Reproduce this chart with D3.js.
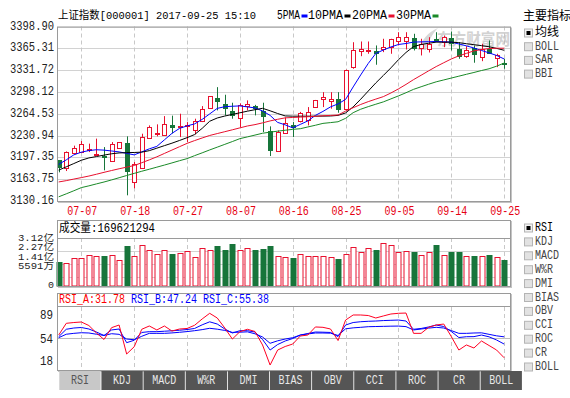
<!DOCTYPE html>
<html><head><meta charset="utf-8">
<script src="https://cdn.jsdelivr.net/npm/d3@7"></script>
<style>body{margin:0;background:#fff;}svg{display:block;}</style>
</head><body>
<svg id="c" width="570" height="398"></svg>
<script>
// ---------------- DATA ----------------
const dates = ["2017-07-04","2017-07-05","2017-07-06","2017-07-07","2017-07-10","2017-07-11","2017-07-12","2017-07-13","2017-07-14","2017-07-17","2017-07-18","2017-07-19","2017-07-20","2017-07-21","2017-07-24","2017-07-25","2017-07-26","2017-07-27","2017-07-28","2017-07-31","2017-08-01","2017-08-02","2017-08-03","2017-08-04","2017-08-07","2017-08-08","2017-08-09","2017-08-10","2017-08-11","2017-08-14","2017-08-15","2017-08-16","2017-08-17","2017-08-18","2017-08-21","2017-08-22","2017-08-23","2017-08-24","2017-08-25","2017-08-28","2017-08-29","2017-08-30","2017-08-31","2017-09-01","2017-09-04","2017-09-05","2017-09-06","2017-09-07","2017-09-08","2017-09-11","2017-09-12","2017-09-13","2017-09-14","2017-09-15","2017-09-18","2017-09-19","2017-09-20","2017-09-21","2017-09-22","2017-09-25"];
const openP = [3192.8,3181.5,3204.6,3205.1,3208.2,3201.5,3200.0,3192.0,3212.3,3219.4,3160.0,3181.5,3227.7,3232.8,3231.2,3247.7,3244.0,3245.1,3240.0,3252.8,3273.8,3288.1,3280.0,3268.6,3258.5,3276.3,3276.9,3268.1,3237.4,3206.6,3234.8,3246.6,3252.8,3254.3,3274.8,3287.7,3284.6,3286.6,3272.3,3336.3,3360.9,3360.4,3360.9,3364.6,3367.1,3376.3,3376.3,3381.5,3366.1,3364.6,3380.0,3374.7,3381.5,3363.5,3352.8,3365.5,3351.7,3364.6,3350.1,3343.0];
const highP = [3192.8,3206.5,3215.4,3222.5,3218.5,3226.2,3213.2,3220.9,3221.0,3229.7,3190.2,3233.8,3246.6,3248.2,3260.9,3261.6,3264.6,3251.7,3256.9,3276.3,3291.5,3305.5,3293.8,3281.5,3280.5,3285.1,3278.2,3281.5,3245.1,3238.9,3258.9,3251.7,3267.4,3274.8,3285.8,3297.8,3297.8,3297.8,3332.5,3374.7,3375.8,3375.8,3369.7,3380.0,3380.0,3390.1,3390.1,3387.7,3380.0,3382.4,3390.1,3385.0,3391.2,3374.7,3368.6,3369.7,3372.3,3377.4,3356.9,3349.2];
const lowP = [3174.3,3176.3,3204.0,3204.0,3205.5,3200.5,3177.4,3191.7,3212.0,3138.9,3149.7,3180.0,3227.4,3229.7,3231.0,3234.3,3228.6,3220.9,3232.8,3251.7,3273.5,3269.7,3262.0,3256.9,3244.0,3269.7,3262.0,3236.3,3199.4,3205.8,3234.3,3228.6,3251.2,3246.6,3274.3,3274.8,3272.3,3266.1,3269.7,3333.8,3353.2,3356.9,3340.0,3359.4,3356.9,3369.7,3363.5,3362.0,3354.3,3358.9,3374.7,3367.1,3362.0,3349.2,3350.7,3343.1,3345.5,3356.9,3336.3,3333.8];
const closeP = [3182.0,3206.2,3211.2,3217.4,3210.8,3203.1,3197.9,3217.4,3220.9,3176.3,3186.6,3228.6,3243.5,3234.8,3249.2,3244.0,3246.1,3247.7,3252.8,3272.3,3291.2,3284.0,3273.2,3262.0,3278.5,3280.0,3273.2,3260.9,3208.2,3236.3,3250.2,3244.0,3266.1,3267.1,3285.1,3290.2,3286.6,3271.2,3331.2,3362.0,3363.5,3363.1,3358.4,3367.1,3378.9,3382.4,3382.4,3365.5,3372.3,3371.2,3378.4,3382.4,3373.2,3353.2,3362.0,3356.9,3364.6,3358.4,3355.4,3340.9];
const ma5 = [3186.6,3193.5,3201.2,3205.4,3207.8,3209.1,3208.5,3207.2,3205.8,3203.5,3201.2,3205.8,3210.5,3214.3,3224.3,3234.3,3242.0,3245.8,3248.9,3255.8,3264.3,3272.8,3275.4,3276.1,3276.6,3275.1,3273.5,3268.9,3262.0,3251.2,3247.4,3242.8,3248.1,3253.5,3262.0,3268.1,3275.1,3279.7,3286.6,3305.8,3324.3,3342.0,3357.4,3362.7,3367.4,3371.2,3372.7,3374.9,3375.2,3375.5,3375.8,3375.4,3374.8,3372.0,3369.1,3365.8,3362.0,3358.3,3354.3,3348.9];
const ma10 = [3177.7,3182.8,3187.8,3192.9,3196.5,3198.6,3200.8,3202.9,3204.2,3204.6,3204.9,3205.4,3207.7,3211.5,3215.4,3219.2,3223.4,3227.7,3232.5,3242.0,3253.0,3258.0,3261.0,3263.5,3266.0,3268.5,3270.8,3272.9,3269.1,3264.9,3261.2,3260.8,3260.8,3260.8,3260.8,3260.9,3261.1,3262.0,3265.8,3275.1,3286.9,3299.5,3312.0,3323.5,3335.2,3347.7,3358.9,3368.0,3371.2,3373.1,3374.8,3374.8,3374.8,3374.0,3372.4,3370.9,3369.4,3367.7,3365.2,3362.3];
const ma20 = [3159.5,3161.5,3163.9,3166.2,3168.6,3171.4,3174.3,3177.1,3179.8,3182.3,3184.8,3189.1,3193.5,3198.2,3203.4,3208.6,3213.8,3218.9,3223.2,3227.2,3231.1,3234.0,3236.9,3239.8,3242.8,3245.7,3247.8,3250.5,3253.5,3256.0,3258.2,3258.8,3259.4,3260.0,3260.6,3261.4,3262.0,3262.6,3268.6,3273.8,3278.8,3283.2,3287.1,3290.9,3296.5,3302.8,3309.7,3317.1,3323.8,3330.6,3337.2,3343.1,3348.9,3353.7,3357.5,3361.4,3363.4,3364.9,3365.5,3365.5];
const ma30 = [3136.6,3141.2,3145.9,3150.8,3153.5,3156.5,3159.4,3162.6,3166.0,3169.4,3172.7,3176.0,3179.1,3182.3,3185.5,3188.8,3192.2,3195.4,3200.0,3204.3,3208.8,3213.1,3217.4,3221.7,3226.2,3228.9,3231.7,3234.5,3236.2,3237.7,3239.1,3240.5,3241.5,3244.2,3246.8,3249.7,3250.9,3252.2,3257.5,3266.2,3271.5,3275.5,3279.2,3282.8,3287.4,3292.0,3296.9,3302.1,3306.1,3310.0,3313.7,3316.6,3319.5,3322.4,3325.3,3328.1,3331.1,3333.8,3337.8,3342.6];
// volume in 亿 (1e8)
const volume = [1.54,1.51,1.80,1.80,2.00,1.93,1.93,2.00,1.67,2.58,1.93,2.65,2.32,2.06,2.32,2.06,2.13,2.26,1.87,2.45,2.32,2.58,2.36,2.73,2.32,2.45,2.36,2.41,2.58,1.93,1.87,1.80,2.06,1.93,1.93,1.93,1.87,1.74,2.06,2.52,2.19,2.45,2.34,2.78,2.65,2.19,2.26,2.19,2.00,2.19,2.67,2.00,2.19,2.19,1.93,1.93,1.93,2.00,1.87,1.69621294];
const rsiA = [57.4,70.6,71.5,72.1,68.1,59.7,52.4,65.7,68.7,36.0,44.2,63.9,67.6,63.1,67.6,61.9,64.2,64.8,68.4,75.5,81.9,76.6,65.3,52.9,61.2,63.9,61.4,46.2,23.6,40.5,44.5,47.3,56.3,57.4,66.5,66.1,64.2,51.2,74.3,80.0,80.0,79.4,76.6,78.9,81.1,81.9,82.2,59.3,59.3,66.1,68.7,69.8,55.7,40.5,46.2,42.8,50.7,45.6,40.5,31.78];
const rsiB = [55.5,63.9,65.3,65.9,64.2,60.8,56.9,63.1,64.2,48.8,51.5,60.3,61.2,61.2,61.7,62.2,62.8,63.6,64.8,68.9,72.3,69.8,64.2,59.7,62.3,62.3,60.8,52.4,40.5,46.7,50.7,53.5,57.4,59.1,60.8,60.6,60.3,55.7,68.7,71.5,72.4,72.9,73.2,73.7,74.0,74.3,73.2,63.9,64.8,66.5,68.7,67.0,61.4,54.6,55.5,55.6,57.4,55.4,51.8,47.24];
const rsiC = [54.4,58.3,59.3,60.0,59.7,58.3,56.9,58.9,58.2,52.9,52.1,56.0,59.3,59.3,59.3,59.8,60.5,61.3,62.3,63.5,65.0,64.0,62.6,60.4,60.6,61.0,58.8,55.2,48.1,50.9,52.9,54.4,57.4,58.6,59.7,59.7,59.5,56.9,64.4,65.5,66.1,66.8,67.0,67.2,67.4,67.5,66.9,63.1,64.2,65.2,66.1,65.3,62.4,59.3,59.3,59.7,59.9,58.2,56.5,55.38];
const priceTicks = ["3398.90","3365.31","3331.72","3298.12","3264.53","3230.94","3197.35","3163.75","3130.16"];
const xTickDates = ["2017-07-07","2017-07-18","2017-07-27","2017-08-07","2017-08-16","2017-08-25","2017-09-05","2017-09-14","2017-09-25"];
const volTickValues = [3.12,2.27,1.41,0.5591,0];
const volTickLabels = ["3.12亿","2.27亿","1.41亿","5591万","0"];
const rsiTicks = [89,54,18];
const maNames = ["5PMA","10PMA","20PMA","30PMA"];
const tabs = ["RSI","KDJ","MACD","W%R","DMI","BIAS","OBV","CCI","ROC","CR","BOLL"];
const mainIndicators = ["均线","BOLL","SAR","BBI"];
const subIndicators = ["RSI","KDJ","MACD","W%R","DMI","BIAS","OBV","CCI","ROC","CR","BOLL"];
const title = "上证指数[000001] 2017-09-25 15:10";

// ---------------- STYLE ----------------
const RED = "#e8102e", GREEN = "#17753a";
const MA_COLORS = ["#0000ff","#000000",RED,"#1a8a28"];
const GRID = "#d2d2d2", BORDER = "#9a9a9a";
const FONT = "'Liberation Mono','Noto Sans CJK SC',monospace";
const isCJK = ch => ch.charCodeAt(0) > 0x2e80;
const tlen = s => [...s].reduce((a,ch)=>a+(isCJK(ch)?12:6),0);

const svg = d3.select("#c");
function addText(g, s, x, y, o={}) {
  const t = g.append("text").attr("x",x).attr("y",y)
    .attr("dominant-baseline","central")
    .attr("text-anchor", o.anchor||"start")
    .attr("fill", o.color||"#000")
    .style("font-family", o.font||FONT)
    .style("font-size", (o.size||12)+"px")
    .text(s);
  const w = o.width!==undefined ? o.width : tlen(s);
  if (w) t.attr("textLength", w).attr("lengthAdjust","spacingAndGlyphs");
  return t;
}
function panelBorder(g, x0, y0, x1, y1){
  g.append("rect").attr("x",x0+0.5).attr("y",y0+0.5).attr("width",x1-x0).attr("height",y1-y0)
    .attr("fill","none").attr("stroke",BORDER);
  g.append("line").attr("x1",x1+1.5).attr("x2",x1+1.5).attr("y1",y0+1).attr("y2",y1+2).attr("stroke","#c4c4c4");
  g.append("line").attr("x1",x0+1).attr("x2",x1+2).attr("y1",y1+1.5).attr("y2",y1+1.5).attr("stroke","#c4c4c4");
}

const L = 57, R = 510;
const x = d3.scalePoint().domain(dates).range([58.7, 504.15]);
const px = d => Math.round(x(d));

// ---------------- MAIN PANEL ----------------
const mainTop = 26.5, mainBot = 201;
const y = d3.scaleLinear().domain([+priceTicks[8], +priceTicks[0]]).range([mainBot, mainTop]);
const gm = svg.append("g");
gm.selectAll(".hg").data(priceTicks).join("line")
  .attr("x1",L).attr("x2",R)
  .attr("y1",d=>Math.round(y(+d))+0.5).attr("y2",d=>Math.round(y(+d))+0.5)
  .attr("stroke",GRID);
gm.selectAll(".vg").data(xTickDates).join("line")
  .attr("x1",d=>px(d)+0.5).attr("x2",d=>px(d)+0.5)
  .attr("y1",mainTop).attr("y2",mainBot)
  .attr("stroke","#c8c8c8").attr("stroke-dasharray","4,3");
// watermark
const wm = gm.append("g").attr("opacity",0.6);
wm.append("path").attr("d","M418,50 C422,40 428,32 438,28 C432,34 428,42 426,50 Z").attr("fill","#bdbdbd");
addText(wm, "东方财富网", 437, 38, {color:"#b5b5b5", size:16, width:73, font:"'Noto Sans CJK SC',sans-serif"}).style("font-weight","bold");
// y labels
priceTicks.forEach(t => addText(gm, t, 54, y(+t), {anchor:"end", color:"#222", width:44}));
// x labels
xTickDates.forEach(d => addText(gm, d.slice(5), x(d)+1, 212, {anchor:"middle", color:"#e60012"}));
// title + legend
addText(gm, title, 58, 16, {color:"#000", size:11});
const legendX = [277, 308, 352, 396];
maNames.forEach((n,i) => {
  const w = n.length===4 ? 23 : 35;
  addText(gm, n, legendX[i], 16, {color:"#000", width:w});
  gm.append("rect").attr("x",legendX[i]+w+1.5).attr("y",14.5).attr("width",6).attr("height",3).attr("fill",MA_COLORS[i]);
});
// candles
const candles = gm.append("g");
dates.forEach((d,i) => {
  const o = openP[i], c = closeP[i], up = c >= o;
  const col = up ? RED : GREEN;
  const r = px(d);
  candles.append("line").attr("x1",r+0.5).attr("x2",r+0.5)
    .attr("y1",y(highP[i])).attr("y2",y(lowP[i])).attr("stroke",col);
  const top = Math.round(y(Math.max(o,c))), bot = Math.round(y(Math.min(o,c)));
  candles.append("rect").attr("x",r-1.5).attr("y",top+0.5)
    .attr("width",4).attr("height",Math.max(bot-top,0.01))
    .attr("fill", up ? "#fff" : GREEN).attr("stroke",col);
});
// MAs
const mline = d3.line().x((v,i)=>x(dates[i])).y(v=>y(v));
[ma5, ma10, ma20, ma30].forEach((arr,k) => {
  gm.append("path").attr("d",mline(arr)).attr("fill","none").attr("stroke",MA_COLORS[k]).attr("stroke-width",1);
});
panelBorder(gm, L, mainTop, R, mainBot);

// ---------------- VOLUME PANEL ----------------
const vTop = 220, vHead = 238, vBot = 286;
const yv = d3.scaleLinear().domain([0, volTickValues[0]]).range([vBot, vHead]);
const gv = svg.append("g");
gv.selectAll(".hg").data(volTickValues.slice(1,4)).join("line")
  .attr("x1",L).attr("x2",R).attr("y1",d=>Math.round(yv(d))+0.5).attr("y2",d=>Math.round(yv(d))+0.5)
  .attr("stroke",GRID);
gv.selectAll(".vg").data(xTickDates).join("line")
  .attr("x1",d=>px(d)+0.5).attr("x2",d=>px(d)+0.5)
  .attr("y1",vHead).attr("y2",vBot)
  .attr("stroke","#c8c8c8").attr("stroke-dasharray","4,3");
dates.forEach((d,i) => {
  const up = closeP[i] >= openP[i];
  const r = px(d), top = Math.round(yv(volume[i]));
  gv.append("rect").attr("x",r-2).attr("y",top+0.5).attr("width",5).attr("height",vBot-top-0.5)
    .attr("fill", up ? "#fff" : GREEN).attr("stroke", up ? RED : GREEN);
});
gv.append("line").attr("x1",L).attr("x2",R).attr("y1",vHead+0.5).attr("y2",vHead+0.5).attr("stroke",BORDER);
addText(gv, "成交量:" + Math.round(volume[volume.length-1]*1e8), 59, 229, {color:"#000"});
volTickLabels.forEach((s,k) => {
  const yy = k < 4 ? yv(volTickValues[0]) + 1 + k*9.4 : vBot;
  addText(gv, s, 54, yy, {anchor:"end", color:"#222", size:9});
});
panelBorder(gv, L, vTop, R, vBot);

// ---------------- RSI PANEL ----------------
const rTop = 293, rHead = 307, rBot = 370;
const yr = d3.scaleLinear().domain([rsiTicks[2], rsiTicks[0]]).range([rBot, rHead]);
const gr = svg.append("g");
gr.append("line").attr("x1",L).attr("x2",R).attr("y1",Math.round(yr(rsiTicks[1]))+0.5).attr("y2",Math.round(yr(rsiTicks[1]))+0.5).attr("stroke","#bcbcbc");
gr.selectAll(".vg").data(xTickDates).join("line")
  .attr("x1",d=>px(d)+0.5).attr("x2",d=>px(d)+0.5)
  .attr("y1",rHead).attr("y2",rBot)
  .attr("stroke","#c8c8c8").attr("stroke-dasharray","4,3");
const rline = d3.line().x((v,i)=>x(dates[i])).y(v=>yr(v));
[[rsiC,"#0000ff"],[rsiB,"#0000ff"],[rsiA,"#ff0022"]].forEach(([arr,col]) => {
  gr.append("path").attr("d",rline(arr)).attr("fill","none").attr("stroke",col).attr("stroke-width",1);
});
gr.append("line").attr("x1",L).attr("x2",R).attr("y1",rHead-0.5).attr("y2",rHead-0.5).attr("stroke",BORDER);
const rsiHead = [["RSI_A:"+rsiA[59].toFixed(2),"#ff0000"],["RSI_B:"+rsiB[59].toFixed(2),"#0000ff"],["RSI_C:"+rsiC[59].toFixed(2),"#0000ff"]];
rsiHead.forEach(([s,col],k) => addText(gr, s, 59 + k*72, 300, {color:col}));
rsiTicks.forEach(v => {
  const yy = Math.min(Math.max(yr(v)+1.5, rHead+9), rBot-8);
  addText(gr, String(v), 53, yy, {anchor:"end", color:"#222", width:13});
});
panelBorder(gr, L, rTop, R, rBot);

// ---------------- TABS ----------------
const gt = svg.append("g");
tabs.forEach((t,i) => {
  const tx = 59.3 + 42.13*i;
  gt.append("rect").attr("x",tx).attr("y",371).attr("width",41.3).attr("height",19)
    .attr("fill", i===0 ? "#c8c8c8" : "#555555");
  addText(gt, t, tx+20.6, 381, {anchor:"middle", color: i===0 ? "#555" : "#e8e8e8"});
});

// ---------------- RIGHT LEGENDS ----------------
const gl = svg.append("g");
function checkbox(g, cx, cy, checked){
  g.append("rect").attr("x",cx+0.5).attr("y",cy-3.5).attr("width",8).attr("height",8)
    .attr("fill", checked ? "#f2f2f2" : "#e2e2e2").attr("stroke","#b4b4b4");
  if (checked) g.append("rect").attr("x",cx+2.5).attr("y",cy-1.5).attr("width",4).attr("height",4).attr("fill","#000");
}
addText(gl, "主要指标", 523, 17, {color:"#000"});
mainIndicators.forEach((s,k) => {
  const cy = 32.5 + k*13.7;
  checkbox(gl, 524, cy, k===0);
  addText(gl, s, 535, cy+0.5, {color: k===0 ? "#000" : "#444"});
});
subIndicators.forEach((s,k) => {
  const cy = 227.5 + k*13.9;
  checkbox(gl, 524, cy, k===0);
  addText(gl, s, 535, cy+0.5, {color: k===0 ? "#000" : "#444"});
});
</script>
</body></html>
